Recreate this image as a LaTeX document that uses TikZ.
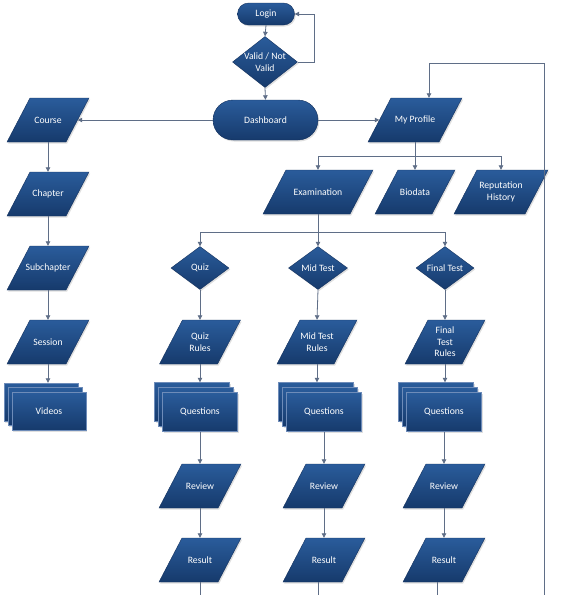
\documentclass[tikz,border=0pt]{standalone}
\usepackage{fontspec}
\setmainfont{Carlito}
\usetikzlibrary{shapes.geometric,arrows.meta,shadows}
\definecolor{boxtop}{RGB}{42,92,155}
\definecolor{boxbot}{RGB}{22,58,108}
\definecolor{boxedge}{RGB}{20,50,95}
\definecolor{lineclr}{RGB}{95,110,135}
\definecolor{layeredge}{RGB}{110,140,185}
\tikzset{
  fillshp/.style={top color=boxtop, bottom color=boxbot, draw=boxedge, line width=0.4pt,
    drop shadow={shadow xshift=1.2pt, shadow yshift=-1.5pt, opacity=0.25}},
  shp/.style={fillshp, text=white, font=\fontsize{9.7}{11.5}\selectfont, align=center, inner sep=1pt},
  dia/.style={shp, diamond, inner sep=0pt},
  term/.style={shp, rectangle},
  doc/.style={shp, rectangle, draw=layeredge, minimum width=75pt, minimum height=39pt},
  txt/.style={text=white, font=\fontsize{9.7}{11.5}\selectfont, align=center, inner sep=0pt},
  arr/.style={draw=lineclr, line width=0.8pt, -{Triangle[length=4.5pt,width=4.5pt]}},
  ln/.style={draw=lineclr, line width=0.8pt}
}
% parallelogram: name, cx, cy, total width, text  (height 44, slant 23)
\newcommand{\pgram}[5]{%
  \path[fillshp] (#2,#3) ++({-#4/2},22) -- ++({#4-23},0) -- ++(23,-44) -- ++({-(#4-23)},0) -- cycle;
  \node[txt, minimum width={#4-23}, minimum height=44pt] (#1) at (#2,#3) {#5};
}
\begin{document}
\begin{tikzpicture}[x=1pt,y=-1pt]
\fill[white] (0,0) rectangle (564,595);
\useasboundingbox (0,0) rectangle (564,595);

% top
\node[term, rounded corners=11pt, minimum width=57pt, minimum height=22pt] (login) at (266,14) {Login};
\node[dia, minimum width=65pt, minimum height=51pt, label={[txt]center:{Valid / Not\\Valid}}] (valid) at (265,62) {};
\node[term, rounded corners=20pt, minimum width=105pt, minimum height=40pt] (dash) at (265.5,120) {Dashboard};

% left column
\pgram{course}{48}{120}{82}{Course}
\pgram{chapter}{48}{194}{82}{Chapter}
\pgram{subch}{48}{268}{82}{Subchapter}
\pgram{session}{48}{342}{82}{Session}
\node[doc, minimum width=74pt, minimum height=38pt] (vidb) at (41,402) {};
\node[doc, minimum width=74pt, minimum height=38pt] (vidm) at (45,406.5) {};
\node[doc, minimum width=74pt, minimum height=38pt] (vid) at (49,411) {Videos};

% profile
\pgram{prof}{415}{120}{94}{My Profile}
\pgram{exam}{318}{192}{110}{Examination}
\pgram{bio}{415}{192}{80}{Biodata}
\pgram{rep}{501}{192}{94}{Reputation\\History}

% tests
\node[dia, minimum width=58pt, minimum height=43pt, label={[txt]center:Quiz}] (quiz) at (200,268) {};
\node[dia, minimum width=59pt, minimum height=43pt, label={[txt]center:Mid Test}] (mid) at (318,268) {};
\node[dia, minimum width=58pt, minimum height=43pt, label={[txt]center:Final Test}] (final) at (445,268) {};

\pgram{qr}{200}{342}{81}{Quiz\\Rules}
\pgram{mr}{317}{342}{80}{Mid Test\\Rules}
\pgram{fr}{445}{342}{80}{Final\\Test\\Rules}

\node[doc] (qb1) at (192,402) {};
\node[doc] (qm1) at (196,407) {};
\node[doc] (q1) at (200,412) {Questions};
\node[doc] (qb2) at (316,402) {};
\node[doc] (qm2) at (320,407) {};
\node[doc] (q2) at (324,412) {Questions};
\node[doc] (qb3) at (436,402) {};
\node[doc] (qm3) at (440,407) {};
\node[doc] (q3) at (444,412) {Questions};

\pgram{rev1}{200}{486}{82}{Review}
\pgram{rev2}{324}{486}{82}{Review}
\pgram{rev3}{444}{486}{82}{Review}
\pgram{res1}{200}{560}{82}{Result}
\pgram{res2}{324}{560}{82}{Result}
\pgram{res3}{444}{560}{82}{Result}

% connectors top
\draw[arr] (login.south) -- (valid.north);
\draw[arr] (valid.south) -- (dash.north);
\draw[arr] (valid.east) -- ++(17,0) |- (login.east);
\draw[arr] (dash.west) -- (course.east);
\draw[arr] (dash.east) -- (prof.west);

% left column
\draw[arr] (course.south) -- (chapter.north);
\draw[arr] (chapter.south) -- (subch.north);
\draw[arr] (subch.south) -- (session.north);
\draw[arr] (session.south) -- (session.south |- vidb.north);

% profile branch
\coordinate (pb) at (prof.south |- 0,156);
\draw[ln] (prof.south) -- (pb);
\draw[arr] (pb) -| (exam.north);
\draw[arr] (pb) -- (bio.north);
\draw[arr] (pb) -| (rep.north);

% exam branch
\coordinate (eb) at (exam.south |- 0,232);
\draw[ln] (exam.south) -- (eb);
\draw[arr] (eb) -| (quiz.north);
\draw[arr] (eb) -- (mid.north);
\draw[arr] (eb) -| (final.north);

% columns
\draw[arr] (quiz.south) -- (qr.north);
\draw[arr] (mid.south) -- (mr.north);
\draw[arr] (final.south) -- (fr.north);
\draw[arr] (qr.south) -- (qr.south |- qb1.north);
\draw[arr] (mr.south) -- (mr.south |- qb2.north);
\draw[arr] (fr.south) -- (fr.south |- qb3.north);
\draw[arr] (q1.south) -- (rev1.north);
\draw[arr] (q2.south) -- (rev2.north);
\draw[arr] (q3.south) -- (rev3.north);
\draw[arr] (rev1.south) -- (res1.north);
\draw[arr] (rev2.south) -- (res2.north);
\draw[arr] (rev3.south) -- (res3.north);

\coordinate (x1) at (200,595);
\coordinate (x2) at (318,595);
\coordinate (x3) at (437,595);
\draw[ln] (x1 |- res1.south) -- (x1);
\draw[ln] (x2 |- res2.south) -- (x2);
\draw[ln] (x3 |- res3.south) -- (x3);

% feedback to profile
\coordinate (fbs) at (544,595);
\coordinate (fbt) at (544,63);
\coordinate (fbi) at (429,63);
\draw[arr] (fbs) -- (fbt) -- (fbi) -- (fbi |- prof.north);
\end{tikzpicture}
\end{document}
